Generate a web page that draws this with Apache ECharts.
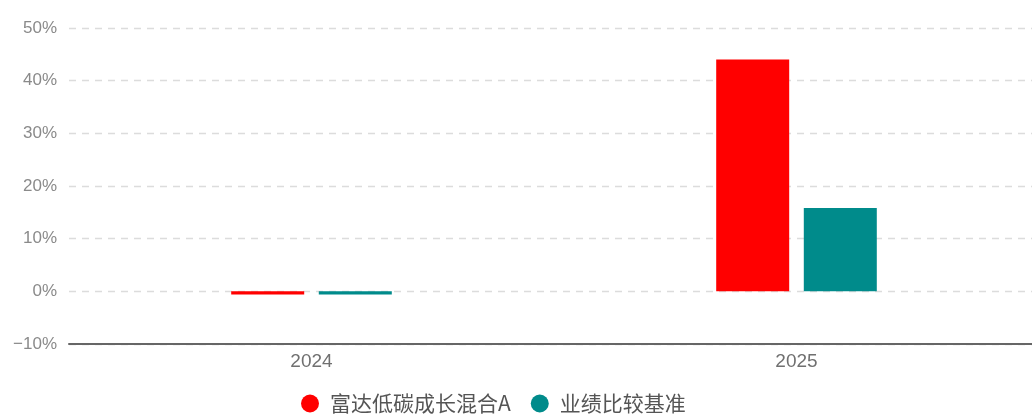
<!DOCTYPE html>
<html><head><meta charset="utf-8">
<script src="https://cdn.jsdelivr.net/npm/echarts@6/dist/echarts.min.js"></script>
<style>html,body{margin:0;padding:0;background:#fff;overflow:hidden}#c{width:1040px;height:415px}</style>
</head><body><div id="c"></div>
<script>
const categories = ['2024', '2025'];
const seriesNames = ['富达低碳成长混合A', '业绩比较基准'];
const fundValues = [-0.6, 44.0];
const benchValues = [-0.6, 15.8];
const yTicks = { min: -10, max: 50, interval: 10 };

const chart = echarts.init(document.getElementById('c'));
const cjk = '"Noto Sans CJK SC", "Noto Sans", sans-serif';
const num = '"Liberation Sans", Arial, sans-serif';
chart.setOption({
  animation: false,
  grid: { left: 69, width: 970, top: 28, bottom: 71 },
  legend: {
    top: 388, left: 296, icon: 'circle', itemWidth: 18, itemHeight: 18, itemGap: 20,
    textStyle: { color: '#555', fontSize: 21, fontFamily: cjk, padding: [0, 0, 0, 6] },
    data: seriesNames
  },
  xAxis: {
    type: 'category', data: categories,
    axisLine: { onZero: false, lineStyle: { color: '#666', width: 2 } },
    axisTick: { show: false },
    axisLabel: { color: '#707070', fontSize: 19, fontFamily: num, margin: 8 }
  },
  yAxis: {
    type: 'value', min: yTicks.min, max: yTicks.max, interval: yTicks.interval,
    axisLine: { show: false }, axisTick: { show: false },
    axisLabel: { color: '#8a8a8a', fontSize: 17, fontFamily: num, margin: 12,
      formatter: v => (v < 0 ? '\u2212' + Math.abs(v) : v) + '%' },
    splitLine: { lineStyle: { color: '#dcdcdc', type: [7, 6], width: 1.3 } }
  },
  series: [
    { name: seriesNames[0], type: 'bar', data: fundValues, barWidth: 73, barGap: '20%',
      itemStyle: { color: '#ff0000' } },
    { name: seriesNames[1], type: 'bar', data: benchValues, barWidth: 73,
      itemStyle: { color: '#008b8b' } }
  ]
});
</script></body></html>
